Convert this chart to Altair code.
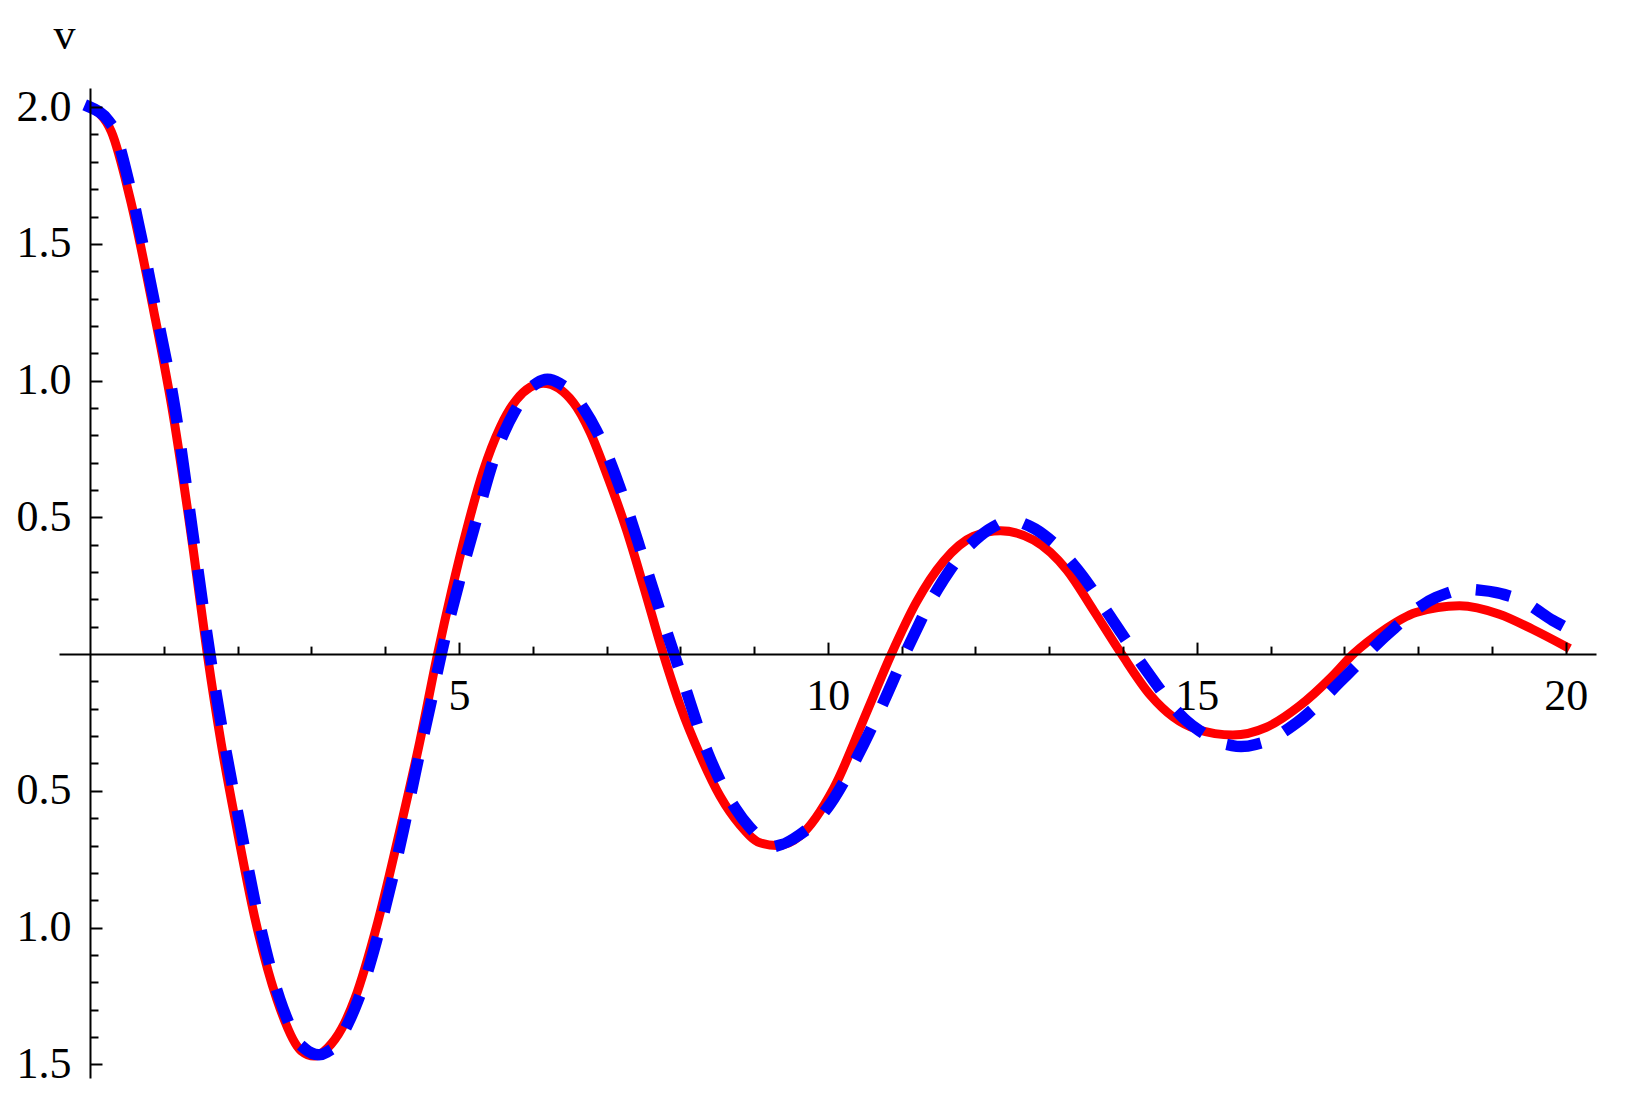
import altair as alt
import pandas as pd

# --- data ---
red_t = [0, 0.29, 0.54, 0.86, 1.13, 1.40, 1.59, 1.78, 1.985, 2.23, 2.53, 2.86, 3.04, 3.22, 3.41, 3.59,
         3.90, 4.22, 4.47, 4.71, 4.90, 5.10, 5.33, 5.56, 5.78, 6.14, 6.55, 6.78, 7.00, 7.27, 7.50, 7.77,
         8.00, 8.27, 8.54, 8.81, 9.08, 9.31, 9.62, 10.08, 10.53, 10.86, 11.20, 11.57, 11.97, 12.34,
         12.79, 13.24, 13.60, 13.98, 14.37, 14.68, 15.00, 15.49, 15.94, 16.39, 16.84, 17.12, 17.52,
         17.97, 18.56, 19.10, 19.55, 20.00]
red_v = [2.00, 1.91, 1.67, 1.26, 0.87, 0.38, 0.00, -0.33, -0.63, -0.96, -1.26, -1.45, -1.47, -1.44,
         -1.37, -1.26, -0.98, -0.62, -0.32, 0.00, 0.23, 0.45, 0.67, 0.83, 0.93, 0.99, 0.92, 0.81, 0.66,
         0.455, 0.25, 0.00, -0.19, -0.37, -0.52, -0.625, -0.69, -0.70, -0.665, -0.49, -0.21, 0.00,
         0.19, 0.34, 0.43, 0.451, 0.417, 0.307, 0.16, 0.00, -0.15, -0.23, -0.275, -0.296, -0.268,
         -0.19, -0.08, 0.00, 0.085, 0.152, 0.177, 0.146, 0.091, 0.028]

blue_t = [0, 0.30, 0.55, 0.87, 1.15, 1.42, 1.625, 1.82, 2.03, 2.27, 2.57, 2.90, 3.10, 3.28, 3.46, 3.64,
          3.95, 4.25, 4.42, 4.61, 4.76, 5.00, 5.23, 5.47, 5.83, 6.20, 6.46, 6.93, 7.24, 7.51, 7.77,
          8.04, 8.32, 8.67, 9.00, 9.30, 9.62, 10.00, 10.37, 10.73, 11.09, 11.48, 12.00, 12.50, 12.75,
          13.36, 13.86, 14.33, 14.86, 15.20, 15.60, 16.00, 16.36, 16.98, 17.57, 18.24, 18.70, 19.06,
          19.50, 19.82, 20.00]
blue_v = [2.00, 1.93, 1.70, 1.29, 0.90, 0.39, 0.00, -0.32, -0.62, -0.95, -1.26, -1.44, -1.465, -1.44,
          -1.37, -1.26, -0.98, -0.64, -0.42, -0.19, 0.00, 0.26, 0.485, 0.71, 0.92, 1.005, 0.97, 0.78,
          0.564, 0.34, 0.12, -0.10, -0.325, -0.53, -0.65, -0.70, -0.66, -0.56, -0.39, -0.19, 0.027,
          0.234, 0.417, 0.485, 0.466, 0.317, 0.124, -0.065, -0.244, -0.305, -0.338, -0.31, -0.25,
          -0.091, 0.069, 0.207, 0.235, 0.225, 0.18, 0.124, 0.0975]

x_label_values = [5, 10, 15, 20]
x_minor_values = [1, 2, 3, 4, 6, 7, 8, 9, 11, 12, 13, 14, 16, 17, 18, 19]
y_label_values = [2.0, 1.5, 1.0, 0.5, -0.5, -1.0, -1.5]
y_minor_values = [1.9, 1.8, 1.7, 1.6, 1.4, 1.3, 1.2, 1.1, 0.9, 0.8, 0.7, 0.6, 0.4, 0.3, 0.2, 0.1,
                  -0.1, -0.2, -0.3, -0.4, -0.6, -0.7, -0.8, -0.9, -1.1, -1.2, -1.3, -1.4]
y_title = "v"

red_df = pd.DataFrame({"t": red_t, "v": red_v})
blue_df = pd.DataFrame({"t": blue_t, "v": blue_v})

# --- layout ---
W, H = 1537, 990
X_DOM = [-0.42, 20.41]
Y_DOM = [-1.55, 2.07]
x0_px = (0 - X_DOM[0]) / (X_DOM[1] - X_DOM[0]) * W      # pixel of t = 0
y0_px = (Y_DOM[1] - 0) / (Y_DOM[1] - Y_DOM[0]) * H      # pixel of v = 0

xscale = alt.Scale(domain=X_DOM, nice=False, zero=False)
yscale = alt.Scale(domain=Y_DOM, nice=False, zero=False)

FONT = "Liberation Serif"
FS = 44

ax_x_labels = alt.Axis(orient="bottom", offset=-(H - y0_px), values=x_label_values, format="d",
                       ticks=False, tickSize=0, domain=False, grid=False, title=None,
                       labelFont=FONT, labelFontSize=FS, labelColor="black", labelPadding=20,
                       labelFlush=False, labelOverlap=False)
ax_x_major = alt.Axis(orient="top", offset=-y0_px, values=x_label_values, labels=False,
                      ticks=True, tickSize=12, tickWidth=2, tickColor="black",
                      domain=True, domainColor="black", domainWidth=2, grid=False, title=None,
                      zindex=1)
ax_x_minor = alt.Axis(orient="top", offset=-y0_px, values=x_minor_values, labels=False,
                      ticks=True, tickSize=8, tickWidth=2, tickColor="black",
                      domain=False, grid=False, title=None, zindex=1)

ax_y_labels = alt.Axis(orient="left", offset=-x0_px, values=y_label_values,
                       labelExpr="format(abs(datum.value), '.1f')",
                       ticks=False, tickSize=0, domain=False, grid=False,
                       labelFont=FONT, labelFontSize=FS, labelColor="black", labelPadding=19,
                       labelFlush=False, labelOverlap=False, labelBaseline="middle",
                       title=y_title, titleAngle=0, titleFont=FONT, titleFontSize=FS,
                       titleFontWeight="normal", titleColor="black", titleAlign="center",
                       titleBaseline="alphabetic", titleX=5 - x0_px, titleY=-40)
ax_y_major = alt.Axis(orient="right", offset=-(W - x0_px), values=y_label_values, labels=False,
                      ticks=True, tickSize=12, tickWidth=2, tickColor="black",
                      domain=True, domainColor="black", domainWidth=2, grid=False, title=None,
                      zindex=1)
ax_y_minor = alt.Axis(orient="right", offset=-(W - x0_px), values=y_minor_values, labels=False,
                      ticks=True, tickSize=8, tickWidth=2, tickColor="black",
                      domain=False, grid=False, title=None, zindex=1)

red = alt.Chart(red_df).mark_line(color="#ff0000", strokeWidth=9, strokeCap="square",
                                  interpolate="monotone").encode(
    x=alt.X("t:Q", scale=xscale, axis=ax_x_labels),
    y=alt.Y("v:Q", scale=yscale, axis=ax_y_labels),
    order="t:Q",
)
blue = alt.Chart(blue_df).mark_line(color="#0000ff", strokeWidth=11.5, strokeCap="square",
                                    strokeDash=[23.5, 37.5], interpolate="monotone").encode(
    x=alt.X("t:Q", scale=xscale, axis=ax_x_major),
    y=alt.Y("v:Q", scale=yscale, axis=ax_y_major),
    order="t:Q",
)
minor = alt.Chart(blue_df).mark_line(strokeOpacity=0).encode(
    x=alt.X("t:Q", scale=xscale, axis=ax_x_minor),
    y=alt.Y("v:Q", scale=yscale, axis=ax_y_minor),
)

chart = alt.layer(red, blue, minor).resolve_axis(x="independent", y="independent").properties(
    width=W, height=H,
    autosize=alt.AutoSizeParams(type="none"),
    padding={"left": 51, "top": 80, "right": 10, "bottom": 12},
    background="white",
).configure_view(stroke=None)

chart.save("out.html", embed_options={"renderer": "svg", "actions": False})
